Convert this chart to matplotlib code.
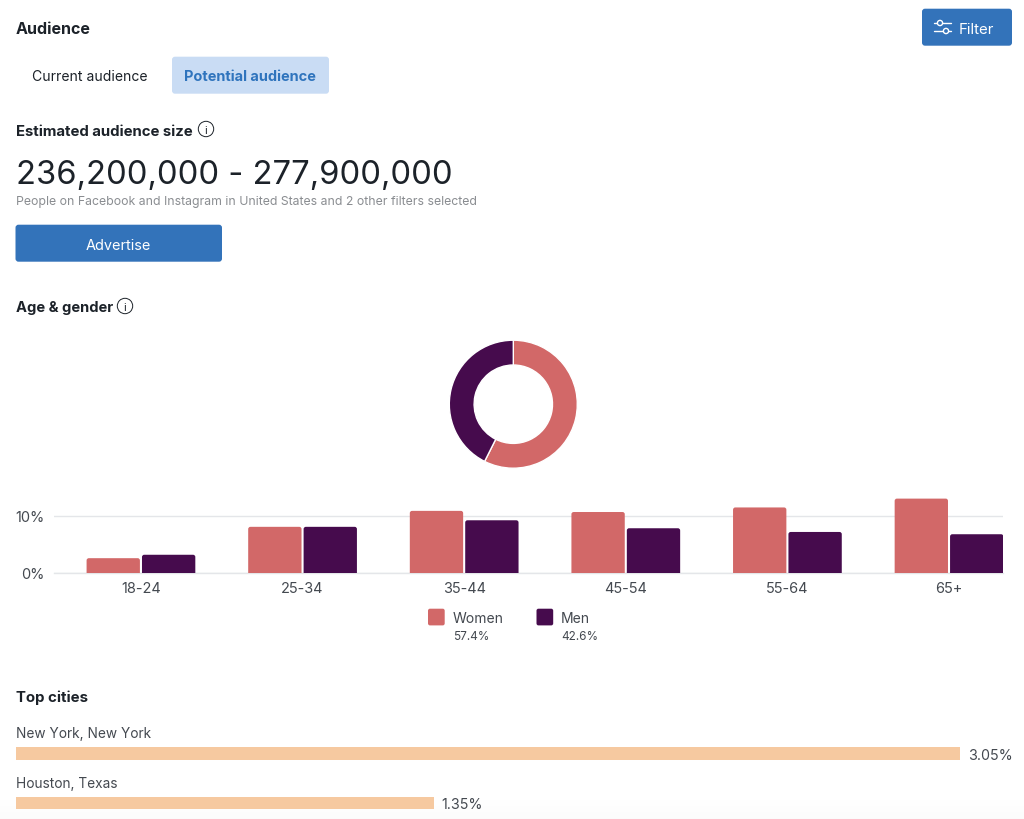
#! /usr/bin/env python3

import matplotlib
matplotlib.use("Agg")
import matplotlib.pyplot as plt
import numpy as np
from matplotlib.patches import FancyBboxPatch, Circle

plt.rcParams["font.family"] = ["Inter", "DejaVu Sans"]

ages = ["18-24", "25-34", "35-44", "45-54", "55-64", "65+"]
women = [2.6, 8.1, 10.9, 10.7, 11.5, 13.05]
men = [3.2, 8.1, 9.25, 7.85, 7.2, 6.8]
gender_names = ["Women", "Men"]
gender_share = [57.4, 42.6]
cities = ["New York, New York", "Houston, Texas"]
city_share = [3.05, 1.35]
y_ticks = [0, 10]

W, H = 1024, 820
ROSE = "#d26868"
PLUM = "#460b4d"
PEACH = "#f6c9a0"
BLUE = "#3373ba"
DARK = "#1c2229"
TEXT = "#444950"
GRID = "#e4e6e9"

fig = plt.figure(figsize=(W / 100, H / 100), dpi=100, facecolor="white")


def px_axes(x0, y0, x1, y1, shift=0.7):
    return fig.add_axes([x0 / W, 1 - (y1 + shift) / H, (x1 - x0) / W, (y1 - y0) / H])


def px(size):
    return size * 0.72


# page furniture, in pixel coordinates
ui = px_axes(0, 0, W, H, shift=0)
ui.set_xlim(0, W)
ui.set_ylim(H, 0)
ui.axis("off")

# the screenshot fades slightly towards the bottom edge
fade = np.zeros((20, 1, 4))
fade[:, :, :3] = 0.9
fade[:, :, 3] = np.linspace(0, 0.12, 20)[:, None]
ui.imshow(fade, extent=(0, W, 820, 800), aspect="auto", zorder=0)
ui.set_xlim(0, W)
ui.set_ylim(H, 0)


def box(x0, y0, x1, y1, color, r=3):
    y0, y1 = y0 + 0.7, y1 + 0.7
    ui.add_patch(FancyBboxPatch((x0 + r, y0 + r), x1 - x0 - 2 * r, y1 - y0 - 2 * r,
                                boxstyle=f"round,pad={r},rounding_size={r}",
                                fc=color, ec="none"))


def label(x, y, s, size, color=TEXT, weight="normal", ha="left"):
    ui.text(x, y, s, fontsize=px(size), color=color, fontweight=weight,
            ha=ha, va="center_baseline")


def info(x, y):
    ui.add_patch(Circle((x, y), 7.7, fc="none", ec=DARK, lw=0.7))
    ui.text(x, y, "i", fontsize=px(11), color=DARK, ha="center", va="center_baseline")


label(16, 28, "Audience", 16, DARK, "bold")
box(922, 9, 1012, 46, BLUE)
label(959, 28, "Filter", 15, "white")
for yy, cx in [(24, 940), (32, 946)]:
    ui.plot([934, 950.5], [yy, yy], color="white", lw=1, solid_capstyle="round")
    ui.add_patch(Circle((cx, yy), 2.6, fc=BLUE, ec="white", lw=1, zorder=3))

label(32, 75.5, "Current audience", 14, DARK)
box(172, 57, 329, 94, "#c9dcf4")
label(184.5, 75.5, "Potential audience", 14.5, "#2f74bd", "bold")

label(16, 130, "Estimated audience size", 14.9, DARK, "bold")
info(206, 130)
label(16, 172, "236,200,000 - 277,900,000", 32.7, DARK)
label(16, 200, "People on Facebook and Instagram in United States and 2 other filters selected",
      12.3, "#8a8d91")
box(15.5, 225, 222, 262, BLUE)
label(118.7, 244, "Advertise", 14.5, "white", ha="center")

label(16, 307, "Age & gender", 14.7, DARK, "bold")
info(125, 307)

# legend
for name, share, color, x in zip(gender_names, gender_share, [ROSE, PLUM], [428, 536.5]):
    box(x, 609, x + 16.7, 625.7, color, r=2)
    label(x + 24.7, 618, name, 14)
    label(x + 24.7, 636, f"{share}%", 11.8)

label(16, 696, "Top cities", 15, DARK, "bold")

# donut
ax = px_axes(449.3, 340.5, 577.3, 468.5)
ax.pie(gender_share, colors=[ROSE, PLUM], startangle=90, counterclock=False, radius=1,
       wedgeprops=dict(width=0.3875, edgecolor="white", linewidth=1))
ax.set_xlim(-1, 1)
ax.set_ylim(-1, 1)

# age bars
ax = px_axes(54, 493.5, 1003, 573.3)
ax.patch.set_alpha(0)
bar_w = 0.33
step = 0.1714
for i, (a, b) in enumerate(zip(women, men)):
    for off, v, color in [(-step, a, ROSE), (step, b, PLUM)]:
        ax.add_patch(FancyBboxPatch((i + off - bar_w / 2, -1), bar_w, v + 1,
                                    boxstyle="round,pad=0,rounding_size=0.014",
                                    mutation_aspect=161.6 / 5.7,
                                    fc=color, ec="none", zorder=3))
ax.set_xlim(-0.538, 5.334)
ax.set_ylim(0, 14)
ax.set_xticks(range(len(ages)), ages)
ax.set_yticks(y_ticks, [f"{t}%" for t in y_ticks])
ax.tick_params(length=0, labelcolor=TEXT, labelsize=px(14.5))
ax.tick_params(axis="x", pad=5.5)
ax.tick_params(axis="y", pad=6.5)
ax.grid(axis="y", color=GRID, lw=1, zorder=0)
ax.set_axisbelow(True)
for s in ["top", "left", "right"]:
    ax.spines[s].set_visible(False)
ax.spines["bottom"].set_color(GRID)
ax.spines["bottom"].set_linewidth(1)

# city bars
ax = px_axes(15.5, 741, W, 816)
ax.patch.set_alpha(0)
y = [i for i in range(len(cities))]
ax.barh(y, city_share, height=12.5 / 49.5, color=PEACH)
ax.set_xlim(0, (W - 15.5) / 309.8)
ax.set_ylim(1 + (816 - 803.25) / 49.5, 0 - (753.75 - 741) / 49.5)
ax.axis("off")
for i, (c, v) in enumerate(zip(cities, city_share)):
    ax.annotate(f"{v}%", (v, i), xytext=(5.5, 0), textcoords="offset points",
                va="center_baseline", color=TEXT, fontsize=px(14.3))
    ax.annotate(c, (0, i), xytext=(0, 15.6), textcoords="offset points",
                va="center_baseline", color=TEXT, fontsize=px(13.7), annotation_clip=False)

fig.savefig("out.png", dpi=100, facecolor="white")
